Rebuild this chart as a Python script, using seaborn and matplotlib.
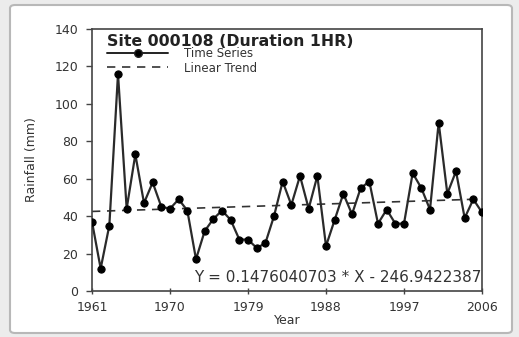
import matplotlib
matplotlib.use("Agg")
import matplotlib.pyplot as plt
import seaborn as sns
import pandas as pd
import numpy as np
from matplotlib.patches import FancyBboxPatch
from matplotlib.lines import Line2D

years = list(range(1961, 2007))
rainfall = [37, 12, 35, 116, 44, 73, 47, 58, 45, 44,
            49, 43, 17, 32, 38.5, 43, 38, 27.5, 27.5, 23,
            25.5, 40, 58.5, 46, 61.5, 44, 61.5, 24, 38, 52,
            41, 55, 58.5, 36, 43.5, 36, 36, 63, 55, 43.5,
            90, 52, 64, 39, 49, 42]
trend_slope = 0.1476040703
trend_intercept = -246.9422387
x_ticks = [1961, 1970, 1979, 1988, 1997, 2006]
y_ticks = [0, 20, 40, 60, 80, 100, 120, 140]

df = pd.DataFrame({"Year": years, "Rainfall": rainfall})
df["Trend"] = trend_slope * df["Year"] + trend_intercept

sns.set_theme(style="white")
plt.rcParams['font.family'] = ['DejaVu Sans']

fig = plt.figure(figsize=(5.19, 3.37), dpi=100)
fig.patch.set_facecolor("#ececec")
frame = FancyBboxPatch((10/519, 4/337), 502/519, 328/337,
                       boxstyle="round,pad=0,rounding_size=0.01",
                       transform=fig.transFigure, facecolor="white",
                       edgecolor="#b8b8b8", linewidth=1.5, zorder=-5)
fig.patches.append(frame)

ax = fig.add_axes([92/519, 46/337, 390/519, 262/337])
ax.set_zorder(2)
ax.set_facecolor("white")

sns.lineplot(data=df, x="Year", y="Trend", ax=ax, color="#333333",
             linestyle=(0, (5, 4)), linewidth=1.2, zorder=2)
sns.lineplot(data=df, x="Year", y="Rainfall", ax=ax, color="#2a2a2a",
             linewidth=1.6, marker="o", markersize=5.2,
             markerfacecolor="black", markeredgecolor="black", zorder=3)

ax.set_xlim(1961, 2006)
ax.set_ylim(0, 140)
ax.set_xticks(x_ticks)
ax.set_yticks(y_ticks)
for s in ax.spines.values():
    s.set_color("#444444")
    s.set_linewidth(1.2)
ax.tick_params(axis="y", direction="out", length=4, width=1, color="#444444",
               labelsize=9, labelcolor="#333333", pad=6)
ax.tick_params(axis="x", direction="inout", length=5, width=1, color="#444444",
               labelsize=9, labelcolor="#333333", pad=4.5, bottom=True)
ax.tick_params(axis="y", left=True)
ax.set_xlabel("Year", fontsize=9, color="#333333", labelpad=0)
ax.set_ylabel("Rainfall (mm)", fontsize=9, color="#333333", labelpad=12)

ax.text(0.038, 0.982, "Site 000108 (Duration 1HR)", transform=ax.transAxes,
        fontsize=11.3, fontweight="bold", color="#222222", va="top", ha="left")
handles = [Line2D([], [], color="#222222", linewidth=1.4, marker="o",
                  markersize=5.5, markerfacecolor="black"),
           Line2D([], [], color="#333333", linestyle=(0, (5, 4)), linewidth=1.2)]
ax.legend(handles, ["Time Series", "Linear Trend"], loc="upper left",
          bbox_to_anchor=(0.0385, 0.93), frameon=False, fontsize=8.5,
          handlelength=5.2, handletextpad=1.3, labelspacing=0.1,
          labelcolor="#333333", borderaxespad=0, borderpad=0)

ax.text(0.998, 0.022, "Y = 0.1476040703 * X - 246.9422387", transform=ax.transAxes,
        fontsize=11, color="#333333", ha="right", va="bottom")

fig.savefig("out.png", dpi=100, facecolor=fig.get_facecolor())
